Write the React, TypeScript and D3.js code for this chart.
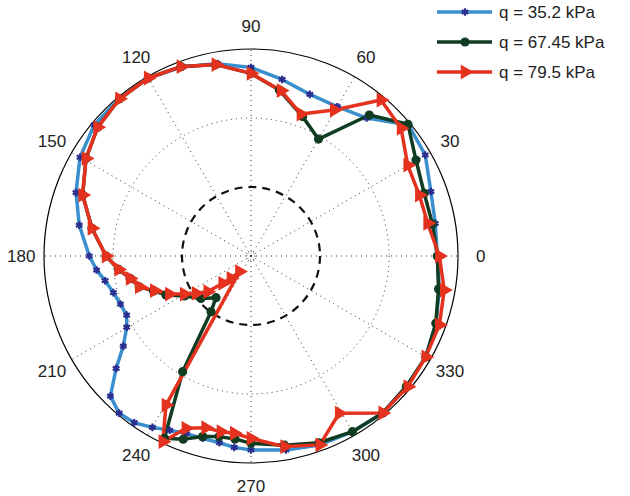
import * as React from "react";
import { scaleLinear, lineRadial, curveLinearClosed, curveLinear, symbol, symbolTriangle, symbolAsterisk, range } from "d3";

// angles in degrees (counter-clockwise from east), radii normalised to outer ring
const blueAngles = [0, -9.7, -20, -29.9, -40.1, -50.1, -59.9, -70.1, -79.8, -90, -95, -99.6, -104.8, -110, -115, -119.9, -125, -130, -135.1, -140.2, -144.8, -150.2, -154.6, -159.8, -165.1, -170.4, -174.8, -180, -190.2, -199.9, -210, -219.9, -230.1, -239.8, -250.2, -260.2, -270, -280, -290, -300, -310, -320.3, -329.9, -340.3, -350];
const blueRadii = [0.9, 0.923, 0.951, 0.975, 0.98, 0.99, 0.98, 0.971, 0.952, 0.937, 0.928, 0.915, 0.911, 0.913, 0.929, 0.955, 0.983, 0.991, 0.959, 0.848, 0.755, 0.692, 0.665, 0.672, 0.688, 0.715, 0.749, 0.781, 0.843, 0.899, 0.954, 0.987, 0.992, 0.993, 0.972, 0.942, 0.911, 0.866, 0.831, 0.833, 0.87, 0.99, 0.973, 0.923, 0.904];

const greenAngles = [0, -10, -20, -30, -40, -50, -60, -70, -80, -90, -95, -100, -105, -110.3, -115.4, -120.6, -125.7, -130, -139.7, -149, -155.4, -160.3, -164.6, -169.5, -174.2, -180, -189.9, -199.9, -210.6, -220, -230.1, -240, -249.7, -259.6, -270, -279.7, -290.3, -300, -310, -320, -329.8, -340.1, -350];
const greenRadii = [0.9, 0.92, 0.95, 0.975, 0.98, 0.99, 0.98, 0.96, 0.928, 0.905, 0.887, 0.886, 0.903, 0.944, 0.975, 0.649, 0.331, 0.263, 0.317, 0.375, 0.452, 0.5, 0.56, 0.594, 0.643, 0.7, 0.78, 0.865, 0.926, 0.967, 0.99, 0.993, 0.975, 0.94, 0.882, 0.813, 0.718, 0.652, 0.889, 0.99, 0.922, 0.89, 0.89];

const redAngles = [0, -10, -20.1, -30, -39.8, -50, -60.7, -70, -80, -90, -95.4, -99.7, -104.8, -110.7, -115.4, -119.7, -126.7, -131.8, -136, -140.5, -145.8, -150.3, -155, -160.3, -164.6, -169.5, -174.2, -180, -189.9, -199.9, -210.6, -220, -230.1, -240, -249.7, -259.6, -270, -280.3, -289.4, -299.7, -309.8, -319.6, -329.9, -340.1, -349.5];
const redRadii = [0.91, 0.948, 0.969, 0.975, 0.986, 0.99, 0.871, 0.971, 0.935, 0.881, 0.86, 0.861, 0.858, 0.89, 0.993, 0.829, 0.094, 0.145, 0.19, 0.271, 0.321, 0.371, 0.435, 0.496, 0.56, 0.594, 0.643, 0.7, 0.78, 0.865, 0.926, 0.967, 0.99, 0.993, 0.975, 0.94, 0.882, 0.812, 0.727, 0.812, 0.981, 0.952, 0.875, 0.865, 0.868];

const spokeAngles = [0, 30, 60, 90, 120, 150, 180, 210, 240, 270, 300, 330];
const legendLabels = ["q = 35.2 kPa", "q = 67.45 kPa", "q = 79.5 kPa"];

const cx = 251, cy = 256, R = 207;
const rScale = scaleLinear().domain([0, 1]).range([0, R]);
const toRad = (d: number) => (d * Math.PI) / 180;
const pos = (a: number, r: number) => [cx + rScale(r) * Math.cos(toRad(a)), cy - rScale(r) * Math.sin(toRad(a))];

// d3 radial angle: 0 at 12 o'clock, clockwise
const radial = (angles: number[], radii: number[]) =>
  lineRadial<number>()
    .angle((_, i) => toRad(90 - angles[i]))
    .radius((_, i) => rScale(radii[i]))
    .curve(curveLinearClosed)(radii) as string;

const star = symbol(symbolAsterisk, 40)() as string;
const tri = symbol(symbolTriangle, 95)() as string;

const series = [
  { angles: blueAngles, radii: blueRadii, color: "#3a8fce", marker: "star" },
  { angles: greenAngles, radii: greenRadii, color: "#103d22", marker: "dot" },
  { angles: redAngles, radii: redRadii, color: "#e4321f", marker: "tri" },
];

const Marker = (p: { kind: string; x: number; y: number }) => {
  if (p.kind === "star")
    return <path d={star} transform={`translate(${p.x},${p.y})`} stroke="#2a2f8f" strokeWidth={2.2} fill="none" />;
  if (p.kind === "dot") return <circle cx={p.x} cy={p.y} r={4.6} fill="#103d22" />;
  return <path d={tri} transform={`translate(${p.x},${p.y}) rotate(90)`} fill="#e4321f" />;
};

export default function App() {
  return (
    <svg width={630} height={496} style={{ position: "absolute", left: 0, top: 0, background: "#fff" }}
      fontFamily="Liberation Sans, Arial, sans-serif" fontSize={17}>
      {/* grid */}
      {spokeAngles.map((a) => {
        const [x, y] = pos(a, 1);
        return <line key={a} x1={cx} y1={cy} x2={x} y2={y} stroke="#333" strokeWidth={1} strokeDasharray="1 4" />;
      })}
      {[2 / 3].map((r) => (
        <circle key={r} cx={cx} cy={cy} r={rScale(r)} fill="none" stroke="#333" strokeDasharray="1 4" />
      ))}
      <circle cx={cx} cy={cy} r={4} fill="none" stroke="#333" strokeDasharray="1 2" />
      <circle cx={cx} cy={cy} r={R} fill="none" stroke="#000" strokeWidth={1.2} />
      <circle cx={cx} cy={cy} r={rScale(1 / 3)} fill="none" stroke="#111" strokeWidth={2.2} strokeDasharray="8 6" />
      {spokeAngles.filter((a) => a !== 0 || true).map((a) => {
        const [x, y] = pos(a, 1.11);
        return (
          <text key={a} x={x} y={y} textAnchor="middle" dy="0.36em" fill="#222">{a}</text>
        );
      })}
      {/* data */}
      {series.map((s, k) => (
        <g key={k} transform={`translate(${cx},${cy})`}>
          <path d={radial(s.angles, s.radii)} fill="none" stroke={s.color} strokeWidth={3.5} strokeLinejoin="round" />
        </g>
      ))}
      {series.map((s, k) => (
        <g key={"m" + k}>
          {s.angles.map((a, i) => {
            const [x, y] = pos(a, s.radii[i]);
            return <Marker key={i} kind={s.marker} x={x} y={y} />;
          })}
        </g>
      ))}
      {/* legend */}
      {series.map((s, k) => {
        const y = 12 + k * 30;
        return (
          <g key={"l" + k}>
            <line x1={437} x2={492} y1={y} y2={y} stroke={s.color} strokeWidth={3.5} />
            <Marker kind={s.marker} x={465} y={y} />
            <text x={499} y={y} dy="0.36em" fill="#222">{legendLabels[k]}</text>
          </g>
        );
      })}
    </svg>
  );
}
